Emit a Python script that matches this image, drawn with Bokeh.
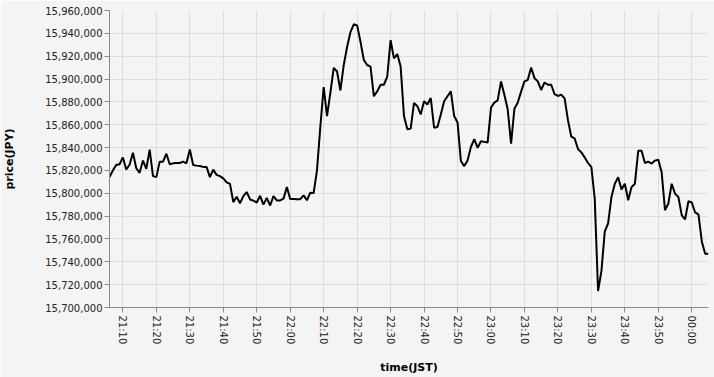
import pandas as pd
from bokeh.plotting import figure
from bokeh.models import (ColumnDataSource, Range1d, SingleIntervalTicker,
                          DatetimeTickFormatter, NumeralTickFormatter)
from bokeh.embed import file_html
from bokeh.resources import INLINE

# ---- data (one reading per minute, JST) ----
start_time = "2024-01-01 21:06"
prices = [
    15814100, 15819900, 15824800, 15825400, 15831400, 15820800, 15825000, 15835500, 15821900, 15817900,
    15828600, 15821300, 15838100, 15815000, 15814100, 15827700, 15827700, 15834600, 15825400, 15826200,
    15826500, 15826500, 15827700, 15826200, 15838400, 15824800, 15824200, 15823900, 15823100, 15823100,
    15814100, 15820700, 15816100, 15815000, 15813000, 15809500, 15808200, 15792200, 15797000, 15791300,
    15797500, 15801100, 15794600, 15793600, 15791900, 15797800, 15790100, 15795900, 15789300, 15797500,
    15793700, 15793700, 15795300, 15805400, 15795000, 15795000, 15794800, 15794800, 15798200, 15793900,
    15800500, 15800200, 15820000, 15858000, 15893000, 15867600, 15887800, 15909800, 15906600, 15890000,
    15912300, 15928000, 15941000, 15947900, 15947000, 15932600, 15916700, 15912300, 15910900, 15884900,
    15889200, 15895000, 15895000, 15902200, 15934000, 15918100, 15921900, 15910900, 15867600, 15856000,
    15856600, 15879100, 15876200, 15869000, 15880600, 15877700, 15883400, 15857400, 15858000, 15869000,
    15880600, 15884900, 15889200, 15867600, 15862000, 15828300, 15823800, 15828600, 15840500, 15847300,
    15839800, 15845600, 15845000, 15844400, 15874800, 15879400, 15881300, 15897900, 15886300, 15873300,
    15843500, 15874000, 15879400, 15889000, 15897900, 15899300, 15910100, 15900800, 15897900, 15890400,
    15897000, 15895000, 15895000, 15886700, 15885200, 15886300, 15883000, 15864000, 15849500, 15848000,
    15838700, 15835800, 15831400, 15826500, 15822800, 15795300, 15714400, 15731800, 15766400, 15773700,
    15796800, 15808300, 15814100, 15803400, 15808300, 15793900, 15805400, 15808300, 15837200, 15837200,
    15826500, 15827700, 15826000, 15828600, 15829400, 15818400, 15785200, 15791000, 15808300, 15799700,
    15796800, 15780900, 15777100, 15793000, 15791900, 15783200, 15781500, 15757800, 15747100, 15747100,
]
times = pd.date_range(start_time, periods=len(prices), freq="min")

y_min, y_max, y_step = 15700000, 15960000, 20000
x_tick_minutes = 10
x_title = "time(JST)"
y_title = "price(JPY)"

src = ColumnDataSource(dict(t=times, price=prices))

BG = "#f4f4f4"
FONT = "DejaVu Sans"

p = figure(width=714, height=377, x_axis_type="datetime",
           output_backend="svg", toolbar_location=None,
           x_range=Range1d(times[0], times[-1]),
           y_range=Range1d(y_min, y_max))
p.min_border_left = 107
p.min_border_right = 6
p.min_border_top = 10
p.min_border_bottom = 67
p.background_fill_color = BG
p.border_fill_color = BG
p.outline_line_color = None

p.line("t", "price", source=src, line_color="#000000", line_width=2)

# axes
p.xaxis.ticker = SingleIntervalTicker(interval=x_tick_minutes * 60 * 1000, num_minor_ticks=0)
p.xaxis.formatter = DatetimeTickFormatter(minutes="%H:%M", hourmin="%H:%M", hours="%H:%M",
                                          minsec="%H:%M", days="%H:%M")
p.xaxis.major_label_orientation = "vertical"
p.yaxis.ticker = SingleIntervalTicker(interval=y_step, num_minor_ticks=0)
p.yaxis.formatter = NumeralTickFormatter(format="0,0")

for ax in (p.xaxis[0], p.yaxis[0]):
    ax.axis_line_color = "#888888"
    ax.major_tick_line_color = "#888888"
    ax.major_tick_out = 5
    ax.major_tick_in = 0
    ax.minor_tick_line_color = None
    ax.major_label_text_font = FONT
    ax.major_label_text_font_size = "10px"
    ax.major_label_text_color = "#222222"
    ax.axis_label_text_font = FONT
    ax.axis_label_text_font_size = "11px"
    ax.axis_label_text_font_style = "bold"
    ax.axis_label_text_color = "#000000"

p.xaxis.axis_label = x_title
p.yaxis.axis_label = y_title
p.xaxis.major_label_standoff = 3
p.yaxis.major_label_standoff = 2
p.xaxis.axis_label_standoff = 14
p.yaxis.axis_label_standoff = 26

p.xgrid.grid_line_color = "#dddddd"
p.ygrid.grid_line_color = "#dddddd"

open("out.html", "w").write(file_html(p, INLINE))
